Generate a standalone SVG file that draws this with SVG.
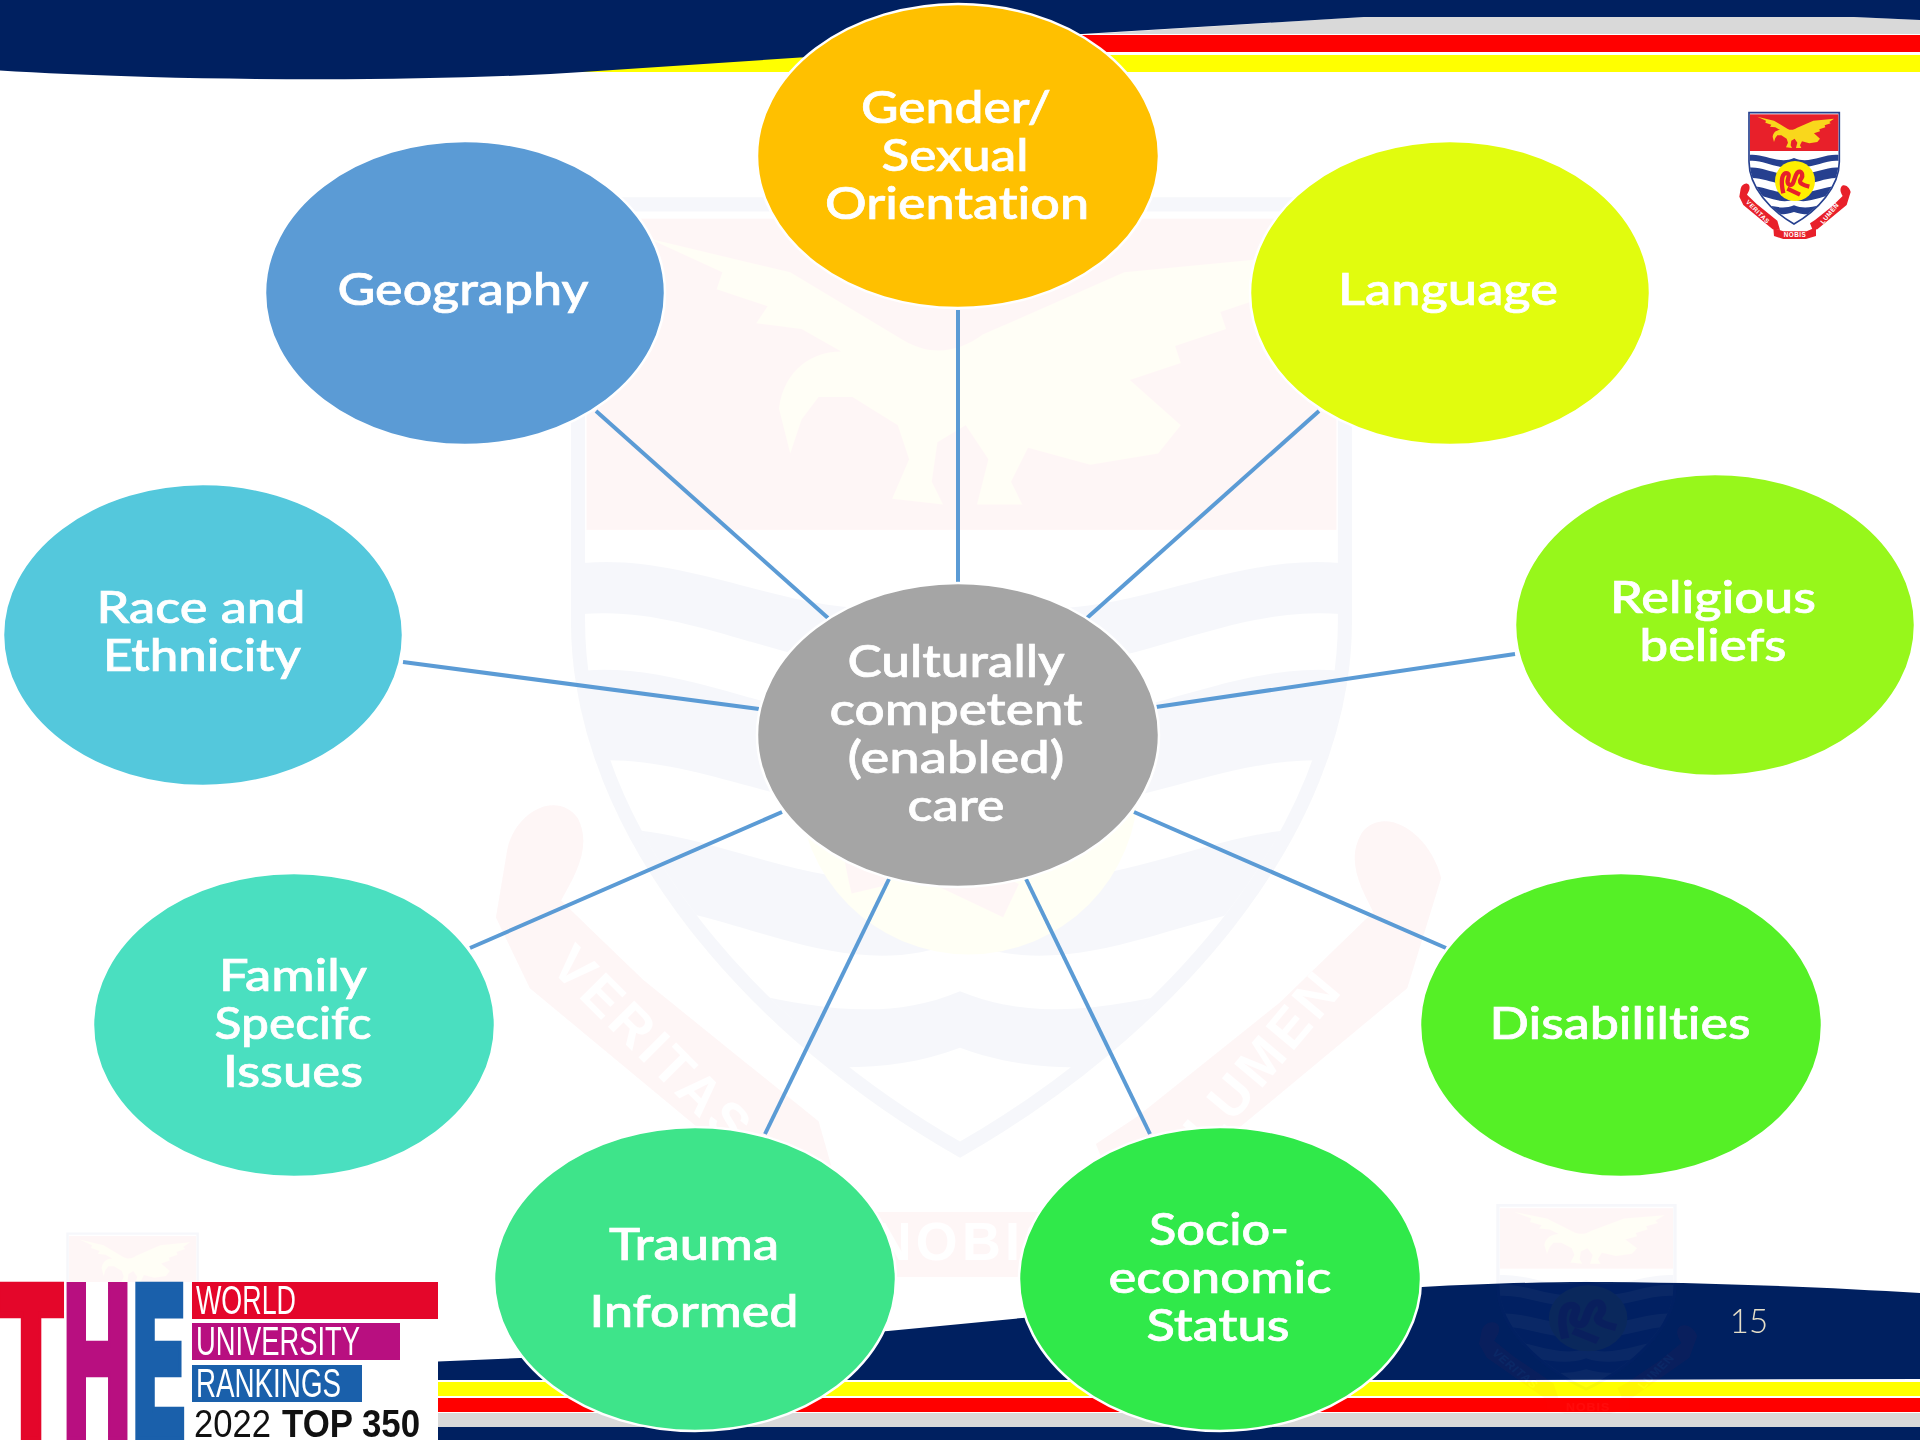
<svg xmlns="http://www.w3.org/2000/svg" xmlns:xlink="http://www.w3.org/1999/xlink" width="1920" height="1440" viewBox="0 0 1920 1440">
<style>
.navy{fill:#002060}.yellow{fill:#ffff00}.red{fill:#ff0000}.gray{fill:#d9d9d9}
.n ellipse{stroke:#fff;stroke-width:2.5}
.n text{font-family:Lato,"Open Sans",sans-serif;font-size:45px;font-weight:500;fill:#fff;stroke:#fff;stroke-width:.7;text-anchor:middle;font-variant-ligatures:none}
#connectors line{stroke:#5b9bd5;stroke-width:4}
.rib{font-family:"Liberation Sans",Arial,sans-serif;font-size:19px;font-weight:700;fill:#fff;text-anchor:middle;letter-spacing:1.5px}
.lg{font-family:"Liberation Sans",Arial,sans-serif;font-size:40px;fill:#fff}
.big{font-family:"DejaVu Sans",sans-serif;font-weight:700;font-size:100px;text-anchor:middle;stroke-width:3}
.yr{font-family:"Liberation Sans",Arial,sans-serif;font-size:38px;fill:#111}
</style>
<defs>
<clipPath id="sh"><path d="M149 184H416V215C416 290 350 360 282 400C214 360 149 290 149 215Z"/></clipPath>
<g id="crest">
<path d="M147 68H418V215C418 292 352 362 282 402C212 362 147 292 147 215Z" fill="#fff" stroke="#26408f" stroke-width="5"/>
<rect x="150" y="73" width="265" height="110" fill="#e8202a"/>
<g clip-path="url(#sh)" fill="#26408f">
<path d="M140 196C190 186 235 226 282 204C330 226 375 186 425 196V214C375 204 330 246 282 226C235 246 190 204 140 214Z"/>
<path d="M140 234C190 224 235 266 282 244C330 266 375 224 425 234V266C375 256 330 296 282 276C235 296 190 256 140 266Z"/>
<path d="M140 290C190 280 235 322 282 300C330 322 375 280 425 290V316C375 306 330 348 282 328C235 348 190 306 140 316Z"/>
<path d="M140 342C190 332 235 366 282 346C330 366 375 332 425 342V370C375 360 330 384 282 366C235 384 190 360 140 370Z"/>
</g>
<path d="M172 80L222 92L262 116C272 122 282 120 290 114L340 92L402 86L388 96L392 100L374 106L376 112L358 118L360 124L342 130L360 146L352 156L328 160L306 154L300 166L304 174L288 174L292 158L284 146L274 152L272 166L276 174L258 172L264 158L260 146L244 136L232 136L226 144L222 156L218 140C220 126 230 120 240 120L226 112L210 110L214 104L196 98L198 92Z" fill="#f9d71c"/>
<circle cx="285" cy="273" r="60" fill="#ffee00"/>
<path d="M250 310C240 268 248 246 262 250C276 256 252 276 268 284C284 290 280 262 292 248C304 238 312 256 302 268C294 280 312 286 328 290M262 296L300 314" fill="none" stroke="#e8202a" stroke-width="13"/>
<path d="M122 296C125 282 140 275 147 285C152 295 146 305 141 314L170 342L232 392L240 420L218 418L130 345L118 320Z" fill="#e8202a"/>
<path d="M220 414L250 424L320 424L348 412L348 438L318 447L250 447L222 438Z" fill="#e8202a"/>
<path d="M452 306C448 290 432 280 424 290C418 300 424 310 428 318L395 350L345 390L330 400L338 420L352 418L440 345Z" fill="#e8202a"/>
<text class="rib" transform="translate(169 370) rotate(45)">VERITAS</text>
<text class="rib" x="285" y="441">NOBIS</text>
<text class="rib" transform="translate(394 374) rotate(-50)">LUMEN</text>
</g>
</defs>
<rect width="1920" height="1440" fill="#fff"/>
<g id="top-band">
<path class="gray" d="M1000 34L1090 34L1364 17H1854L1920 20V34Z"/>
<rect class="red" x="1000" y="35" width="920" height="17"/>
<rect class="yellow" x="560" y="55" width="1360" height="17"/>
<path class="navy" d="M0 0H1920V20L1854 17H1364L1082 34H1000V50L800 57.5L590 71.5C470 80 300 81 150 77C90 75 40 73 0 70.5Z"/>
</g>
<g id="bottom-band">
<path class="navy" d="M438 1361.5L520 1358L888 1331L1022 1318L1422 1287C1480 1284 1540 1282 1585 1282C1700 1282 1820 1287 1920 1293V1379L1500 1380H438Z"/>
<rect class="yellow" x="438" y="1382" width="1482" height="14"/>
<rect class="red" x="438" y="1398" width="1482" height="14"/>
<rect class="gray" x="438" y="1413" width="1482" height="14"/>
<rect class="navy" x="438" y="1427" width="1482" height="13"/>
</g>
<g id="watermark" opacity="0.04">
<use xlink:href="#crest" transform="translate(162 12) scale(2.83)"/>
<use xlink:href="#crest" transform="translate(-3 1201) scale(.48)"/>
<use xlink:href="#crest" transform="translate(1402 1168) scale(.653 .55)"/>
</g>
<use id="crest-logo" xlink:href="#crest" transform="translate(1700 90) scale(.3333)"/>
<text x="1749" y="1333" font-family="Lato,sans-serif" font-weight="300" font-size="33" fill="#e6dfc8" text-anchor="middle">15</text>
<g id="connectors">
<line x1="596" y1="411" x2="828" y2="618"/>
<line x1="958" y1="310" x2="958" y2="584"/>
<line x1="1319" y1="411" x2="1087" y2="618"/>
<line x1="1515" y1="654" x2="1156" y2="707"/>
<line x1="403" y1="662" x2="759" y2="709"/>
<line x1="470" y1="948" x2="782" y2="812"/>
<line x1="1446" y1="948" x2="1134" y2="812"/>
<line x1="765" y1="1134" x2="889" y2="879"/>
<line x1="1150" y1="1134" x2="1026" y2="879"/>
</g>
<g id="node-gender" class="n"><ellipse cx="958" cy="156" rx="201" ry="152" fill="#ffc000"/>
<text x="956" y="123" textLength="190" lengthAdjust="spacingAndGlyphs">Gender/</text>
<text x="955" y="171" textLength="147" lengthAdjust="spacingAndGlyphs">Sexual</text>
<text x="957" y="219" textLength="264" lengthAdjust="spacingAndGlyphs">Orientation</text></g>
<g id="node-geography" class="n"><ellipse cx="465" cy="293" rx="200" ry="152" fill="#5b9bd5"/>
<text x="463" y="305" textLength="251" lengthAdjust="spacingAndGlyphs">Geography</text></g>
<g id="node-language" class="n"><ellipse cx="1450" cy="293" rx="200" ry="152" fill="#e1fc0e"/>
<text x="1448" y="305" textLength="220" lengthAdjust="spacingAndGlyphs">Language</text></g>
<g id="node-religious" class="n"><ellipse cx="1715" cy="625" rx="200" ry="151" fill="#97f71b"/>
<text x="1713" y="613" textLength="206" lengthAdjust="spacingAndGlyphs">Religious</text>
<text x="1713" y="661" textLength="147" lengthAdjust="spacingAndGlyphs">beliefs</text></g>
<g id="node-race" class="n"><ellipse cx="203" cy="635" rx="200" ry="151" fill="#54c8dc"/>
<text x="201" y="623" textLength="209" lengthAdjust="spacingAndGlyphs">Race and</text>
<text x="202" y="671" textLength="198" lengthAdjust="spacingAndGlyphs">Ethnicity</text></g>
<g id="node-family" class="n"><ellipse cx="294" cy="1025" rx="201" ry="152" fill="#4adfc0"/>
<text x="293" y="991" textLength="148" lengthAdjust="spacingAndGlyphs">Family</text>
<text x="293" y="1039" textLength="157" lengthAdjust="spacingAndGlyphs">Specifc</text>
<text x="293" y="1087" textLength="140" lengthAdjust="spacingAndGlyphs">Issues</text></g>
<g id="node-disabilities" class="n"><ellipse cx="1621" cy="1025" rx="201" ry="152" fill="#55f026"/>
<text x="1620" y="1039" textLength="261" lengthAdjust="spacingAndGlyphs">Disabililties</text></g>
<g id="node-trauma" class="n"><ellipse cx="695" cy="1279" rx="201" ry="152" fill="#3ee48a"/>
<text x="694" y="1260" textLength="170" lengthAdjust="spacingAndGlyphs">Trauma</text>
<text x="694" y="1327" textLength="209" lengthAdjust="spacingAndGlyphs">Informed</text></g>
<g id="node-socio" class="n"><ellipse cx="1220" cy="1279" rx="201" ry="152" fill="#30e94a"/>
<text x="1219" y="1245" textLength="140" lengthAdjust="spacingAndGlyphs">Socio-</text>
<text x="1220" y="1293" textLength="223" lengthAdjust="spacingAndGlyphs">economic</text>
<text x="1218" y="1341" textLength="143" lengthAdjust="spacingAndGlyphs">Status</text></g>
<g id="node-center" class="n"><ellipse cx="958" cy="735" rx="201" ry="152" fill="#a5a5a5"/>
<text x="956" y="677" textLength="217" lengthAdjust="spacingAndGlyphs">Culturally</text>
<text x="956" y="725" textLength="253" lengthAdjust="spacingAndGlyphs">competent</text>
<text x="956" y="773" textLength="217" lengthAdjust="spacingAndGlyphs">(enabled)</text>
<text x="956" y="821" textLength="97" lengthAdjust="spacingAndGlyphs">care</text></g>
<g id="the-logo">
<rect x="0" y="1282" width="438" height="158" fill="#fff"/>
<text class="big" transform="translate(31 1440) scale(.94 2.12)" fill="#e4062a" stroke="#e4062a">T</text>
<text class="big" transform="translate(97 1440) scale(.89 2.12)" fill="#b80f80" stroke="#b80f80">H</text>
<text class="big" transform="translate(159 1440) scale(.89 2.12)" fill="#1a60ab" stroke="#1a60ab">E</text>
<rect x="192" y="1282" width="246" height="37" fill="#e4062a"/>
<rect x="192" y="1323" width="208" height="37" fill="#b80f80"/>
<rect x="192" y="1365" width="170" height="37" fill="#1a60ab"/>
<text class="lg" x="196" y="1314" textLength="100" lengthAdjust="spacingAndGlyphs">WORLD</text>
<text class="lg" x="196" y="1355" textLength="164" lengthAdjust="spacingAndGlyphs">UNIVERSITY</text>
<text class="lg" x="196" y="1397" textLength="145" lengthAdjust="spacingAndGlyphs">RANKINGS</text>
<text class="yr" x="194" y="1437" textLength="77" lengthAdjust="spacingAndGlyphs">2022</text>
<text class="yr" x="282" y="1437" textLength="138" lengthAdjust="spacingAndGlyphs" font-weight="700" fill="#000">TOP 350</text>
</g>
</svg>
